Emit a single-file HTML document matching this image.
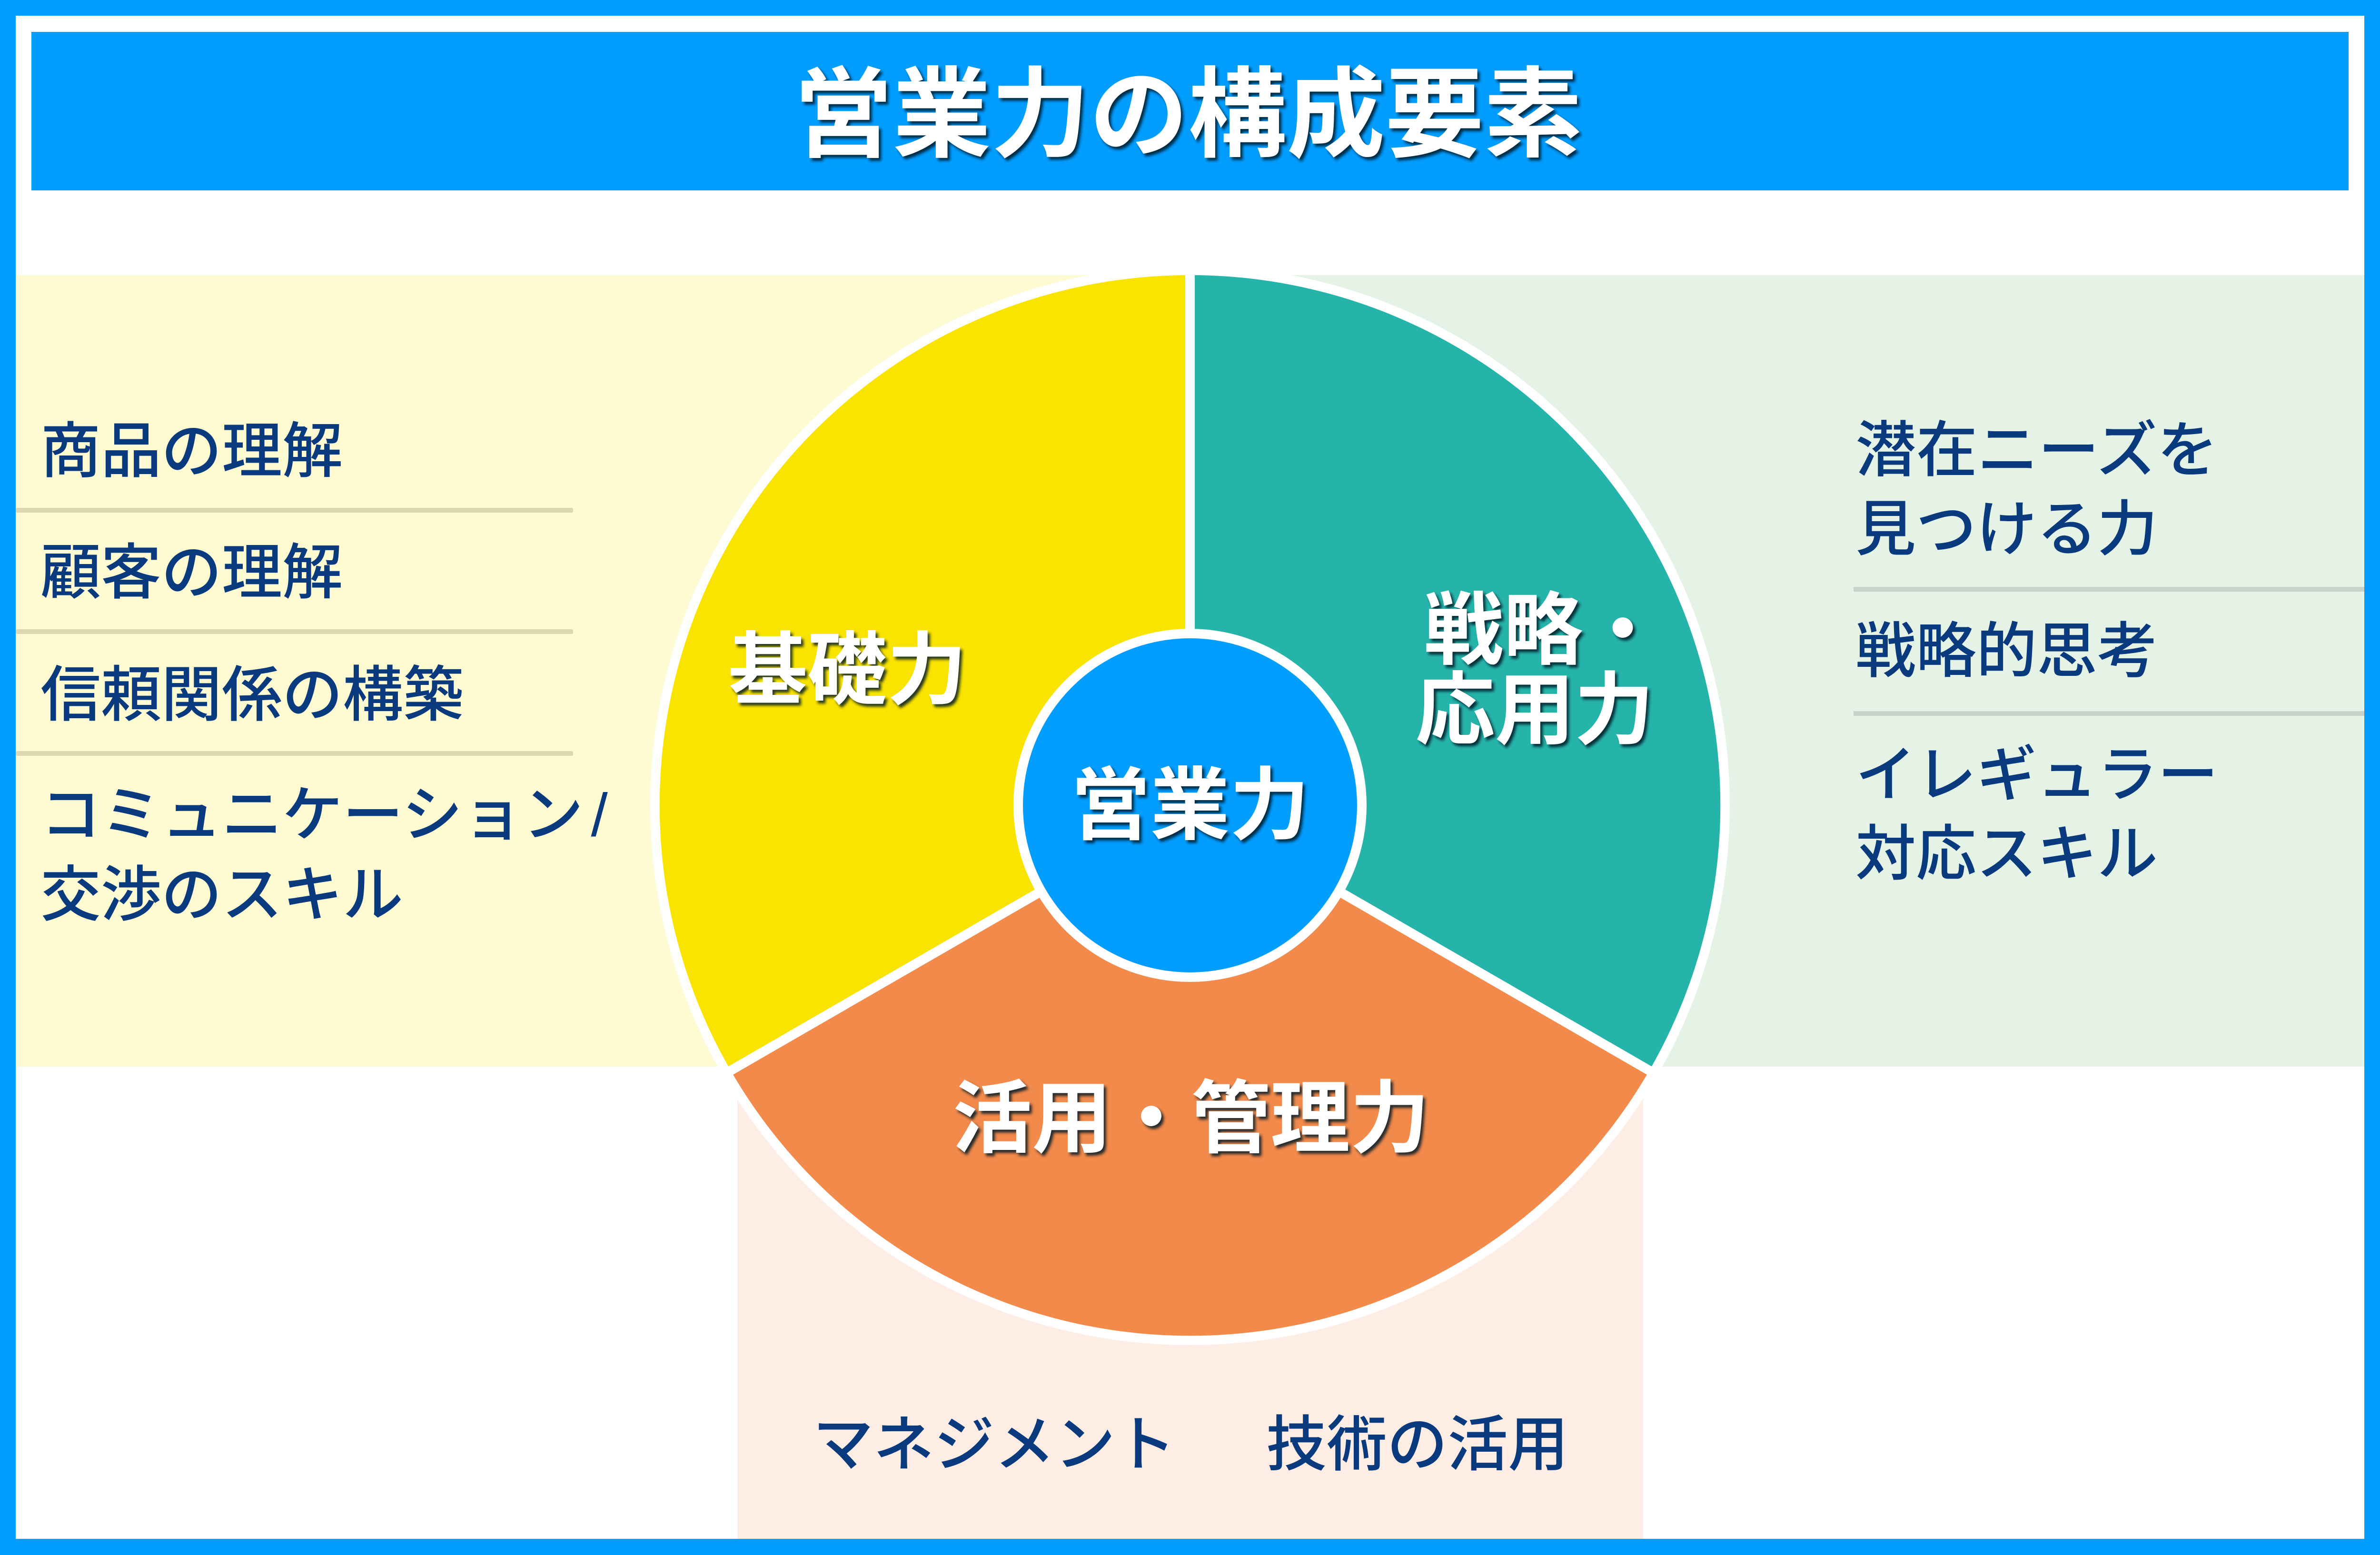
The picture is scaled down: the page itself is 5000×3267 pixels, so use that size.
<!DOCTYPE html>
<html lang="ja">
<head>
<meta charset="utf-8">
<style>
html,body{margin:0;padding:0;background:#019DFF;width:5000px;height:3267px;overflow:hidden}
svg{display:block}
text{font-family:"Liberation Sans","Noto Sans CJK JP",sans-serif}
.b{font-size:127px;fill:#0A3A7E;font-weight:500}
.w{font-size:167px;fill:#fff;font-weight:700;text-anchor:middle;filter:url(#s)}
.t{font-size:207px;fill:#fff;font-weight:700;text-anchor:middle;filter:url(#s)}
</style>
</head>
<body>
<svg xmlns="http://www.w3.org/2000/svg" width="5000" height="3267" viewBox="0 0 5000 3267">
<defs>
<filter id="s" x="-10%" y="-10%" width="120%" height="130%">
<feDropShadow dx="5" dy="6" stdDeviation="3" flood-color="#001428" flood-opacity=".85"/>
</filter>
</defs>
<rect width="5000" height="3267" fill="#019DFF"/>
<rect x="33" y="33" width="4934" height="3200" fill="#fff"/>
<rect x="66" y="67" width="4868" height="333" fill="#019DFF"/>
<rect x="33" y="578" width="2467" height="1663" fill="#FEFAD2"/>
<rect x="2500" y="578" width="2467" height="1663" fill="#E5F2E6"/>
<rect x="1549" y="2100" width="1903" height="1133" fill="#FDEDE5"/>
<circle cx="2500" cy="1692" r="1134" fill="#fff"/>
<path d="M2500 1692 L2500 578 A1114 1114 0 0 1 3465 2249 Z" fill="#25B4AA"/>
<path d="M2500 1692 L3465 2249 A1114 1114 0 0 1 1535 2249 Z" fill="#F18A4B"/>
<path d="M2500 1692 L1535 2249 A1114 1114 0 0 1 2500 578 Z" fill="#F9E400"/>
<g stroke="#fff" stroke-width="20">
<line x1="2500" y1="1692" x2="2500" y2="550"/>
<line x1="2500" y1="1692" x2="3482" y2="2259"/>
<line x1="2500" y1="1692" x2="1518" y2="2259"/>
</g>
<circle cx="2500" cy="1692" r="371" fill="#fff"/>
<circle cx="2500" cy="1692" r="351" fill="#019DFF"/>
<g fill="#DCD9B1">
<rect x="33" y="1067" width="1171" height="10" rx="3"/>
<rect x="33" y="1322" width="1171" height="10" rx="3"/>
<rect x="33" y="1578" width="1171" height="10" rx="3"/>
</g>
<g fill="#C9D2C8">
<rect x="3894" y="1233" width="1073" height="10"/>
<rect x="3894" y="1494" width="1073" height="10"/>
</g>
<text class="t" x="2496" y="313">営業力の構成要素</text>
<text class="w" x="1780" y="1466">基礎力</text>
<text class="w" x="3242" y="1382">戦略・</text>
<text class="w" x="3224" y="1550">応用力</text>
<text class="w" x="2502" y="2408">活用・管理力</text>
<text class="w" x="2500" y="1750">営業力</text>
<text class="b" x="85" y="992">商品の理解</text>
<text class="b" x="85" y="1247">顧客の理解</text>
<text class="b" x="85" y="1504">信頼関係の構築</text>
<text class="b" x="85" y="1756">コミュニケーション<tspan dx="16">/</tspan></text>
<text class="b" x="85" y="1924">交渉のスキル</text>
<text class="b" x="3898" y="990" style="font-size:128px">潜在ニーズを</text>
<text class="b" x="3898" y="1156">見つける力</text>
<text class="b" x="3898" y="1412">戦略的思考</text>
<text class="b" x="3898" y="1672">イレギュラー</text>
<text class="b" x="3898" y="1838">対応スキル</text>
<text class="b" x="1708" y="3079">マネジメント</text>
<text class="b" x="2660" y="3079">技術の活用</text>
</svg>
</body>
</html>
